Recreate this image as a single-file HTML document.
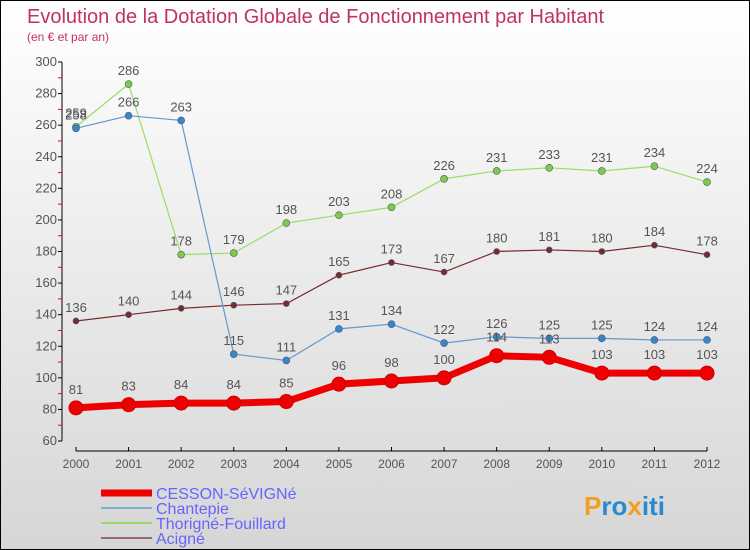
<!DOCTYPE html>
<html><head><meta charset="utf-8"><style>
body{margin:0;}
#c{width:748px;height:548px;border:1px solid #000;background:linear-gradient(#ffffff,#d6d6d6);position:relative;overflow:hidden;font-family:"Liberation Sans",sans-serif;}
svg{position:absolute;left:0;top:0;}
</style></head><body>
<div id="c">
<svg id="s" width="750" height="550">
<text x="26" y="22" font-size="20" fill="#c0306a">Evolution de la Dotation Globale de Fonctionnement par Habitant</text>
<text x="26" y="40" font-size="12" fill="#c0306a">(en € et par an)</text>
</svg>
</div>
<script>
const years=[2000,2001,2002,2003,2004,2005,2006,2007,2008,2009,2010,2011,2012];
const cesson=[81,83,84,84,85,96,98,100,114,113,103,103,103];
const chantepie=[258,266,263,115,111,131,134,122,126,125,125,124,124];
const thorigne=[259,286,178,179,198,203,208,226,231,233,231,234,224];
const acigne=[136,140,144,146,147,165,173,167,180,181,180,184,178];
const yTicks=[60,80,100,120,140,160,180,200,220,240,260,280,300];
const names=["CESSON-SéVIGNé","Chantepie","Thorigné-Fouillard","Acigné"];
const NS="http://www.w3.org/2000/svg";
const s=document.getElementById('s');
function X(i){return 75+i*(706-75)/(years.length-1);}
function Y(v){return 440-(v-60)*(440-61)/240;}
function el(t,a,p){const e=document.createElementNS(NS,t);for(const k in a)e.setAttribute(k,a[k]);(p||s).appendChild(e);return e;}
const ya=el('line',{x1:61,y1:61,x2:61,y2:440,stroke:'#000','stroke-width':1});


yTicks.forEach((v,i)=>{
 el('line',{x1:57,x2:61,y1:Y(v),y2:Y(v),stroke:'#000'});
 if(i<yTicks.length-1){el('line',{x1:57,x2:61,y1:Y(v+10),y2:Y(v+10),stroke:'#f00'});}
 const t=el('text',{x:56,y:Y(v)+4,'font-size':13,'text-anchor':'end',fill:'#555'});t.textContent=v;
 
 
});
const xa=el('line',{x1:75,y1:450,x2:706,y2:450,stroke:'#000'});


years.forEach((y,i)=>{
 el('line',{x1:X(i),x2:X(i),y1:446,y2:450,stroke:'#000'});
 const t=el('text',{x:X(i),y:467,'font-size':12,'text-anchor':'middle',fill:'#555'});t.textContent=y;
 
 
});
const series=[
 {d:acigne,c:'#7a2a2a',w:1.2,r:3,lc:'#9a6a6a'},
 {d:thorigne,c:'#99dd66',w:1.2,r:3.5,f:'#7ccc44',lc:'#99dd66'},
 {d:chantepie,c:'#6699cc',w:1.2,r:3.5,f:'#3388cc',lc:'#88aacc'},
 {d:cesson,c:'#ee0000',w:7,r:7,f:'#ee0000',lc:'#ee0000'}
];
const keys=['acigne','thorigne','chantepie','cesson'];
series.forEach((S,k)=>{
 const g=el('g',{});
 
 
 el('polyline',{points:S.d.map((v,i)=>X(i)+','+Y(v)).join(' '),fill:'none',stroke:S.c,'stroke-width':S.w},g);
 S.d.forEach((v,i)=>{
  const p=el('circle',{cx:X(i),cy:Y(v),r:S.r,fill:S.f||S.c,stroke:k==3?'#cc0000':'#557',"stroke-width":k==3?1:0.6},g);
  
  
  const t=el('text',{x:X(i),y:Y(v)-(k==3?14:9),'font-size':13,'text-anchor':'middle',fill:'#555'},g);t.textContent=v;
  
  
 });
});
const lc=['#ee0000','#7fb0d0','#99dd66','#9a6a6a'];
names.forEach((n,i)=>{
 const y=492+i*15;
 const g=el('g',{});
 
 
 el('line',{x1:100,x2:151,y1:y,y2:y,stroke:lc[i],'stroke-width':i==0?7:2},g);
 const t=el('text',{x:155,y:y+6,'font-size':16,fill:'#6666ff'},g);t.textContent=n;
});
const lg=el('text',{x:583,y:514,'font-size':26,'font-weight':'bold',fill:'#2a8ad0'});
lg.innerHTML='<tspan fill="#f0a020">P</tspan>ro<tspan fill="#f0a020">x</tspan>iti';


</script>
</body></html>
